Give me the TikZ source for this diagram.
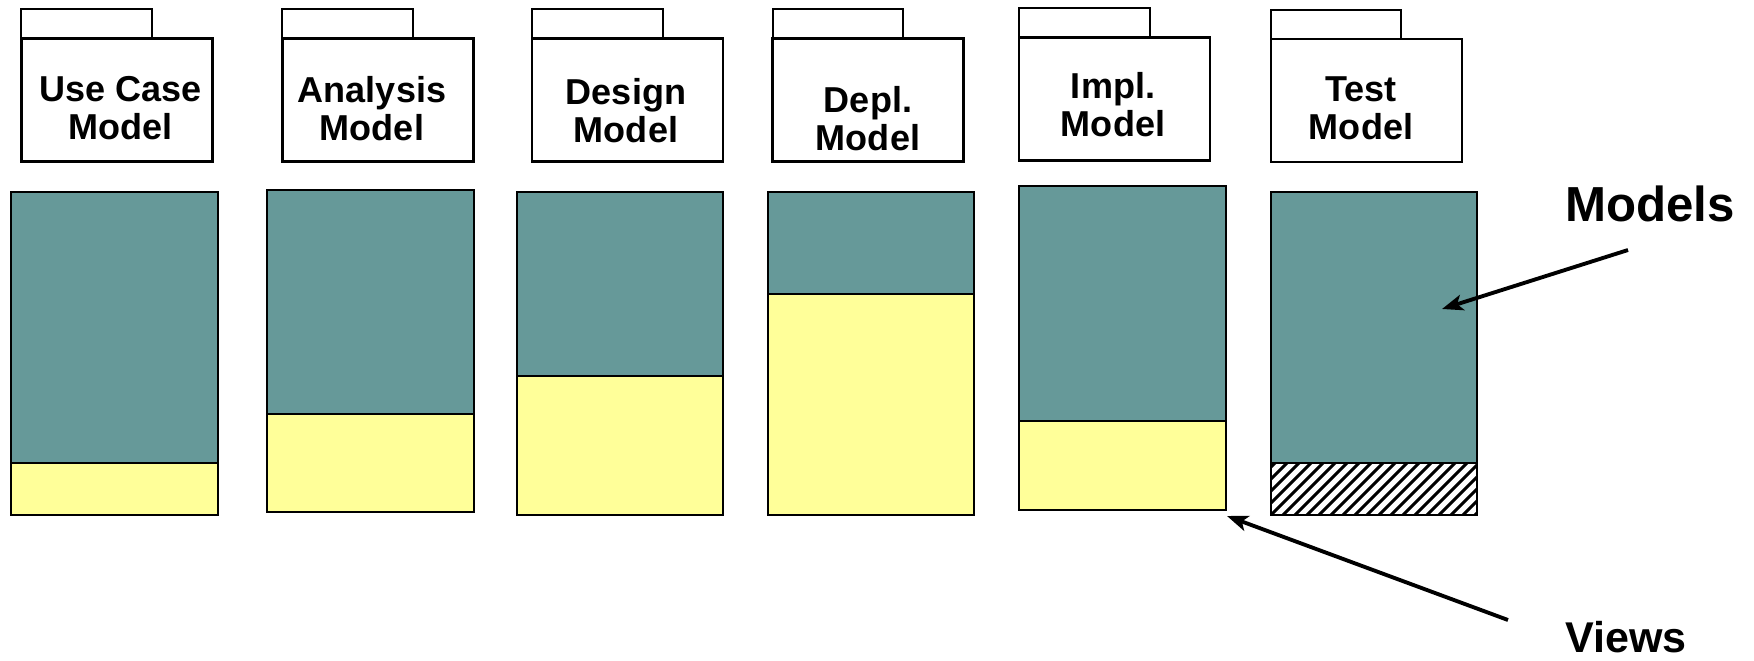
\documentclass[tikz,border=0pt]{standalone}
\usepackage{fontspec}
\setmainfont{Liberation Sans}
\usepackage{tikz}
\usetikzlibrary{arrows.meta, positioning, calc}
\definecolor{modelteal}{RGB}{102,153,153}
\definecolor{viewyellow}{RGB}{255,255,153}
\tikzset{
  folder/.style={rectangle, draw=black, fill=white, line width=1.2pt,
    minimum width=3.82cm, minimum height=2.46cm, inner sep=0pt},
  tab/.style={draw=black, fill=white, line width=1.2pt},
  ftext/.style={font=\fontsize{20.5}{21.5}\selectfont\bfseries, align=center, inner sep=0pt},
  modelpart/.style={fill=modelteal},
  viewpart/.style={fill=viewyellow},
  frame/.style={draw=black, line width=1.5pt},
  hatch/.style={line width=1.7pt, color=black},
  arrow/.style={-{Stealth[length=12pt, width=9pt, inset=3pt]}, line width=2.2pt, color=black},
  bigtext/.style={font=\bfseries, inner sep=0pt, anchor=base}
}

\begin{document}
\begin{tikzpicture}[x=0.02cm, y=-0.02cm]
  \useasboundingbox (0,0) rectangle (1754,660);

  % Folders
  \draw[tab] (21,9) rectangle (152,38);
  \node[folder] (ucm) at (117,100) {};
  \node[ftext] (uctext) at (120.5,108) {Use Case\\Model};

  \draw[tab] (282,9) rectangle (413,38);
  \node[folder] (anm) at (378,100) {};
  \node[ftext] (antext) at (372,109) {Analysis\\Model};

  \draw[tab] (532,9) rectangle (663,38);
  \node[folder] (dsm) at (627.5,100) {};
  \node[ftext] (dstext) at (626,111) {Design\\Model};

  \draw[tab] (773,9) rectangle (903,38);
  \node[folder] (dpm) at (868,100) {};
  \node[ftext] (dptext) at (868,118.5) {Depl.\\Model};

  \draw[tab] (1019,8) rectangle (1150,37);
  \node[folder] (imm) at (1114.5,99) {};
  \node[ftext] (imtext) at (1113,105) {Impl.\\Model};

  \draw[tab] (1271,10) rectangle (1401,39);
  \node[folder] (tsm) at (1366.5,100.5) {};
  \node[ftext] (tstext) at (1361,108) {Test\\Model};

  % Use Case column
  \fill[modelpart] (11,192) rectangle (218,463);
  \fill[viewpart] (11,463) rectangle (218,515);
  \draw[frame] (11,192) rectangle (218,515);
  \draw[frame] (11,463) -- (218,463);

  % Analysis column
  \fill[modelpart] (267,190) rectangle (474,414);
  \fill[viewpart] (267,414) rectangle (474,512);
  \draw[frame] (267,190) rectangle (474,512);
  \draw[frame] (267,414) -- (474,414);

  % Design column
  \fill[modelpart] (517,192) rectangle (723,376);
  \fill[viewpart] (517,376) rectangle (723,515);
  \draw[frame] (517,192) rectangle (723,515);
  \draw[frame] (517,376) -- (723,376);

  % Depl. column
  \fill[modelpart] (768,192) rectangle (974,294);
  \fill[viewpart] (768,294) rectangle (974,515);
  \draw[frame] (768,192) rectangle (974,515);
  \draw[frame] (768,294) -- (974,294);

  % Impl. column
  \fill[modelpart] (1019,186) rectangle (1226,421);
  \fill[viewpart] (1019,421) rectangle (1226,510);
  \draw[frame] (1019,186) rectangle (1226,510);
  \draw[frame] (1019,421) -- (1226,421);

  % Test column, hatched bottom
  \fill[modelpart] (1271,192) rectangle (1477,463);
  \begin{scope}
    \clip (1271,463) rectangle (1477,515);
    \foreach \hx in {1211,1223,...,1490}
      \draw[hatch] (\hx,515) -- ++(60,-60);
  \end{scope}
  \draw[frame] (1271,192) rectangle (1477,515);
  \draw[frame] (1271,463) -- (1477,463);

  % Labels and arrows
  \node[bigtext, font=\fontsize{28}{30}\selectfont\bfseries] (models) at (1650,221) {Models};
  \node[bigtext, font=\fontsize{24.5}{26}\selectfont\bfseries] (views) at (1626,652) {Views};
  \coordinate (mstart) at (1628,250);
  \coordinate (mtip) at (1442,309);
  \coordinate (vstart) at (1508,620);
  \coordinate (vtip) at (1227,516);
  \draw[arrow] (mstart) -- (mtip);
  \draw[arrow] (vstart) -- (vtip);
\end{tikzpicture}
\end{document}
